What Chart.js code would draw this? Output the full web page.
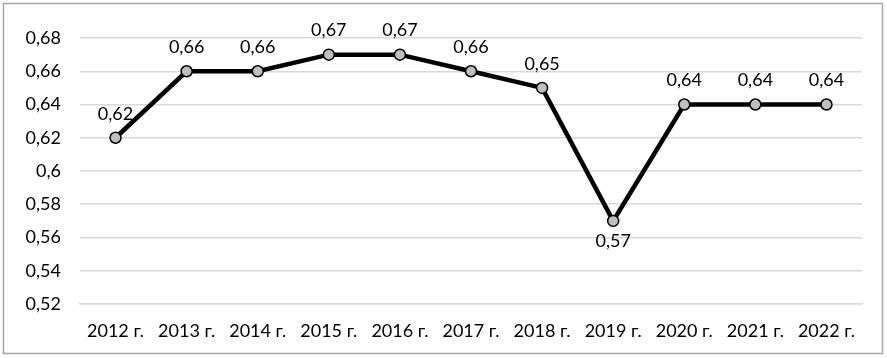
<!DOCTYPE html>
<html>
<head>
<meta charset="utf-8">
<script src="https://cdn.jsdelivr.net/npm/chart.js@4/dist/chart.umd.min.js"></script>
<style>
  html, body { margin: 0; padding: 0; background: #fff; }
  #wrap { position: relative; width: 887px; height: 358px; }
</style>
</head>
<body>
<div id="wrap"><canvas id="grafico"></canvas></div>
<script>
// Datos del gráfico
const categorias = ['2012 г.', '2013 г.', '2014 г.', '2015 г.', '2016 г.', '2017 г.', '2018 г.', '2019 г.', '2020 г.', '2021 г.', '2022 г.'];
const valores = [0.62, 0.66, 0.66, 0.67, 0.67, 0.66, 0.65, 0.57, 0.64, 0.64, 0.64];
const ejeMin = 0.52;
const ejeMax = 0.68;
const paso = 0.02;

const fuente = "'Lato', 'Open Sans', sans-serif";

// formato con coma decimal
function formato(v) {
  return String(+v.toFixed(2)).replace('.', ',');
}

// etiquetas de datos y marco exterior
const etiquetas = {
  id: 'etiquetas',
  afterDatasetsDraw(chart) {
    const ctx = chart.ctx;
    const meta = chart.getDatasetMeta(0);
    ctx.save();
    ctx.font = '18px ' + fuente;
    ctx.fillStyle = '#000';
    ctx.textAlign = 'center';
    ctx.textBaseline = 'middle';
    meta.data.forEach((p, i) => {
      const v = valores[i];
      if (i === 7) {
        ctx.fillText(formato(v), p.x, p.y + 20);
      } else {
        ctx.fillText(formato(v), p.x, p.y - 24);
      }
    });
    ctx.restore();
  },
  afterDraw(chart) {
    const ctx = chart.ctx;
    ctx.save();
    ctx.strokeStyle = '#a6a6a6';
    ctx.lineWidth = 1.5;
    ctx.strokeRect(3.5, 3.5, 879, 350);
    ctx.restore();
  }
};

const ctx = document.getElementById('grafico').getContext('2d');
const miGrafico = new Chart(ctx, {
  type: 'line',
  data: {
    labels: categorias,
    datasets: [{
      data: valores,
      borderColor: '#000',
      borderWidth: 4.5,
      pointBackgroundColor: '#bfbfbf',
      pointBorderColor: '#000',
      pointBorderWidth: 1.5,
      pointRadius: 5.5,
      tension: 0
    }]
  },
  options: {
    responsive: true,
    maintainAspectRatio: false,
    animation: false,
    layout: { padding: { top: 38, right: 25, left: 0, bottom: 0 } },
    plugins: { legend: { display: false }, tooltip: { enabled: false } },
    scales: {
      x: {
        offset: true,
        grid: { display: false },
        border: { color: '#d9d9d9', width: 1.5 },
        ticks: { color: '#000', font: { family: fuente, size: 18 }, maxRotation: 0, padding: 8 },
        afterFit(scale) { scale.height = 54; }
      },
      y: {
        min: ejeMin,
        max: ejeMax,
        grid: { color: '#d9d9d9', lineWidth: 1.5, drawTicks: false },
        border: { display: false },
        ticks: {
          stepSize: paso,
          color: '#000',
          padding: 19,
          font: { family: fuente, size: 18 },
          callback: (v) => formato(v)
        },
        afterFit(scale) { scale.width = 80; }
      }
    }
  },
  plugins: [etiquetas]
});
</script>
</body>
</html>
